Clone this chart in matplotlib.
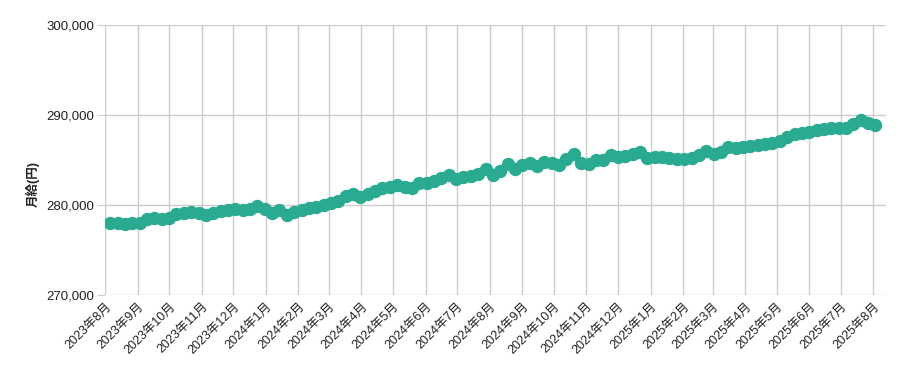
import matplotlib
matplotlib.use("Agg")
import matplotlib.pyplot as plt
import matplotlib.dates as mdates
from matplotlib.ticker import FuncFormatter
import pandas as pd

plt.rcParams['font.family'] = ['Liberation Sans', 'Noto Sans CJK JP', 'DejaVu Sans']

start_date = "2023-08-06"
salary = [
    277950, 278000, 277900, 277950, 278050, 278400, 278500, 278450, 278600, 278950,
    279150, 279250, 279150, 278900, 279150, 279350, 279400, 279500, 279400, 279550,
    279850, 279600, 279100, 279400, 278900, 279200, 279450, 279650, 279800, 279950,
    280250, 280450, 280950, 281250, 280900, 281200, 281600, 281850, 281950, 282200,
    282050, 281850, 282400, 282450, 282650, 283050, 283300, 282900, 283100, 283250,
    283400, 284050, 283350, 283750, 284500, 283950, 284450, 284700, 284300, 284800,
    284650, 284450, 285100, 285650, 284650, 284550, 285050, 285000, 285500, 285300,
    285400, 285650, 285900, 285200, 285350, 285300, 285250, 285150, 285100, 285250,
    285500, 286000, 285700, 285850, 286400, 286350, 286450, 286600, 286700, 286800,
    286900, 287100, 287550, 287900, 288000, 288150, 288350, 288500, 288600, 288600,
    288550, 289050, 289500, 289100, 288900,
]
dates = pd.date_range(start_date, periods=len(salary), freq="7D")

y_label = "月給(円)"
x_min, x_max = "2023-08-01", "2025-08-13"
y_min, y_max = 270000, 300000

fig = plt.figure(figsize=(9.05, 3.71), dpi=100)
ax = fig.add_axes([0.116, 0.205, 0.863, 0.7275])

color = "#2BAA92"
ax.plot(dates, salary, color=color, lw=4, marker="o", markersize=8.6,
        markerfacecolor=color, markeredgecolor=color, zorder=3)

ax.set_xlim(pd.Timestamp(x_min), pd.Timestamp(x_max))
ax.set_ylim(y_min, y_max)
ax.set_yticks(range(y_min, y_max + 1, 10000))
ax.yaxis.set_major_formatter(FuncFormatter(lambda v, p: f"{int(v):,}"))

ax.xaxis.set_major_locator(mdates.MonthLocator())
ax.xaxis.set_major_formatter(FuncFormatter(
    lambda v, p: f"{mdates.num2date(v).year}年{mdates.num2date(v).month}月"))

ax.grid(True, color="#cccccc", lw=1)
ax.set_axisbelow(True)
for s in ax.spines.values():
    s.set_visible(False)

ax.tick_params(axis="x", length=0, pad=4, labelsize=9, labelcolor="#222222")
ax.tick_params(axis="y", length=6, color="#cccccc", pad=2, labelsize=9.5, labelcolor="#222222")
for lbl in ax.get_xticklabels():
    lbl.set_rotation(45)
    lbl.set_ha("right")
    lbl.set_rotation_mode("anchor")

ax.set_ylabel(y_label, fontsize=9, fontweight="bold", color="#222222")
ax.yaxis.set_label_coords(-0.084, 0.41)

fig.savefig("out.png", dpi=100)
